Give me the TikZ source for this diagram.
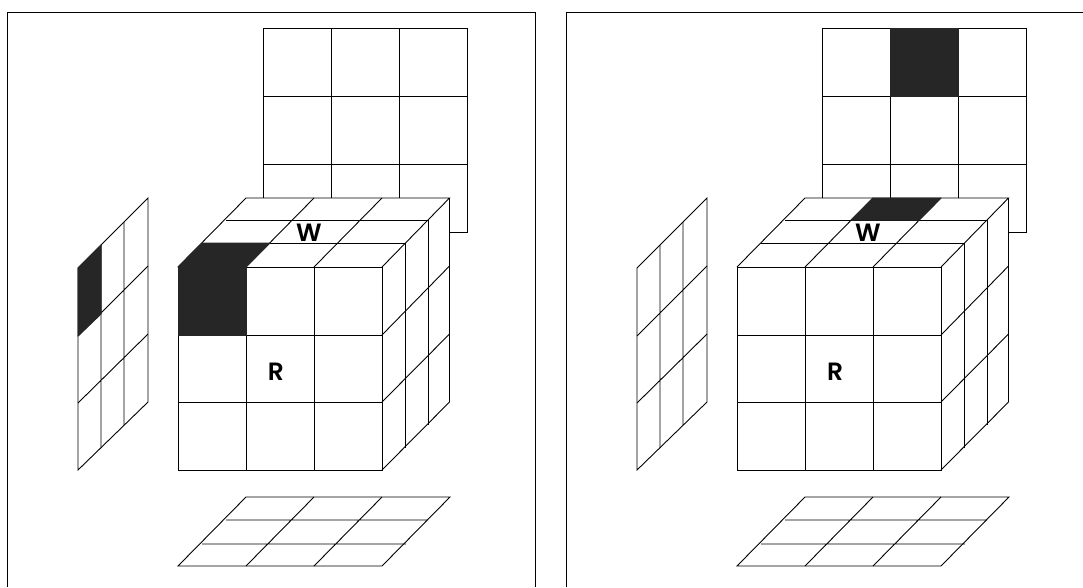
\documentclass[tikz,border=0pt]{standalone}
\usepackage{fontspec}
\setmainfont{Poppins}[BoldFont={* SemiBold}]
\tikzset{
  ln/.style={draw=black,line width=0.9pt,line join=miter},
  dark/.style={fill=black!85,draw=black!85,line width=1pt,line join=round},
  lbl/.style={font=\fontsize{25}{25}\selectfont\bfseries,inner sep=0pt,text=black}
}
% one panel: #1 = dark-cell drawing commands
\newcommand{\panelgrid}[1]{%
  % back grid
  \draw[ln] (263,28) rectangle (467,232);
  \draw[ln] (331,28)--(331,232) (399,28)--(399,232) (263,96)--(467,96) (263,164)--(467,164);
  % left wall
  \draw[ln] (78,268)--(148,198)--(148,402)--(78,470)--cycle;
  \draw[ln] (101,245)--(101,448) (124,222)--(124,425) (78,336)--(148,266) (78,403)--(148,334);
  % bottom
  \draw[ln] (178,566)--(382,566)--(450,497)--(246,497)--cycle;
  \draw[ln] (202,544)--(406,544) (226,520)--(428,520) (246,566)--(314,497) (314,566)--(382,497);
  % cube, hiding what is behind it
  \fill[white] (178,267)--(246,198)--(449.5,198)--(449.5,402)--(382,470)--(178,470)--cycle;
  \draw[ln] (178,267)--(382,267)--(382,470)--(178,470)--cycle;
  \draw[ln] (246,267)--(246,470) (314,267)--(314,470) (178,335)--(382,335) (178,402)--(382,402);
  \draw[ln] (178,267)--(246,198)--(449.5,198)--(382,267);
  \draw[ln] (202,243)--(405.5,243) (226,220)--(428,220);
  \draw[ln] (246,267)--(314,198) (314,267)--(382,198);
  \draw[ln] (449.5,198)--(449.5,402)--(382,470);
  \draw[ln] (405.5,243)--(405.5,448) (428,220)--(428,425);
  \draw[ln] (382,335)--(449.5,266) (382,402)--(449.5,334);
  #1
  \node[lbl] (w) at (309,233) {W};
  \node[lbl] (r) at (276,372) {R};
}
\begin{document}
\begin{tikzpicture}[x=1pt,y=-1pt]
\useasboundingbox (0,0) rectangle (1083,587);
\fill[white] (0,0) rectangle (1083,587);
\draw[ln] (7,587)--(7,12)--(535.5,12)--(535.5,587);
\draw[ln] (566,587)--(566,12)--(1083,12);
\begin{scope}
\panelgrid{%
  \filldraw[dark] (178,267)--(246,267)--(270,243)--(202,243)--cycle;
  \filldraw[dark] (178,267) rectangle (246,335);
  \filldraw[dark] (78,268)--(101,245)--(101,314)--(78,336)--cycle;
}
\end{scope}
\begin{scope}[xshift=559pt]
\panelgrid{%
  \filldraw[dark] (331,28) rectangle (399,96);
  \filldraw[dark] (314,198)--(382,198)--(360,220)--(292,220)--cycle;
}
\end{scope}
\end{tikzpicture}
\end{document}
